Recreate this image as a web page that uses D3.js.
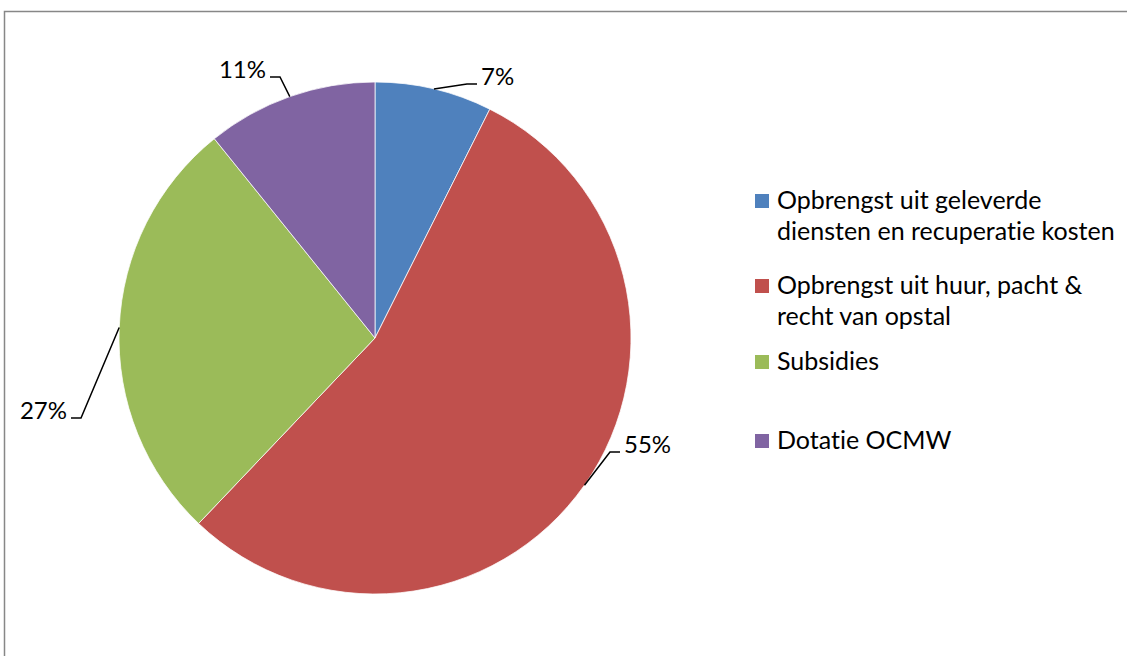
<!DOCTYPE html>
<html>
<head>
<meta charset="utf-8">
<script src="https://cdn.jsdelivr.net/npm/d3@7"></script>
<style>
    body { margin: 0; background: #fff; }
    svg { display: block; }
    text { font-family: Lato, "Open Sans", sans-serif; fill: #000; font-variant-ligatures: none; }
</style>
</head>
<body>
<div id="chart"></div>
<script>
// chart data
const categories = [
    ["Opbrengst uit geleverde", "diensten en recuperatie kosten"],
    ["Opbrengst uit huur, pacht &", "recht van opstal"],
    ["Subsidies"],
    ["Dotatie OCMW"]
];
const values = [7.4, 54.7, 27.1, 10.8];
const colors = ["#4F81BD", "#C0504D", "#9BBB59", "#8064A2"];

// where each label sits (elbow of the leader line, relative to the pie centre)
const labelElbows = [[92, -254], [235, 114], [-294, 80], [-95, -261]];
const labelSide = [1, 1, -1, -1];
const legendRows = [201, 286, 362, 441];

const width = 1127, height = 656;
const cx = 375, cy = 338, radius = 256;

const svg = d3.select("#chart").append("svg")
    .attr("width", width)
    .attr("height", height);

// chart area border (runs off right & bottom)
svg.append("rect")
    .attr("x", 4.5)
    .attr("y", 11.5)
    .attr("width", width + 10)
    .attr("height", height + 10)
    .attr("fill", "none")
    .attr("stroke", "#878787")
    .attr("stroke-width", 1.5);

const total = d3.sum(values);
const pie = d3.pie().sort(null).value((d) => d)(values);
const arc = d3.arc().innerRadius(0).outerRadius(radius);

const g = svg.append("g").attr("transform", `translate(${cx},${cy})`);

g.selectAll("path.slice")
    .data(pie)
    .join("path")
    .attr("class", "slice")
    .attr("d", arc)
    .attr("fill", (d, i) => colors[i])
    .attr("stroke", "#fff")
    .attr("stroke-width", 0.75);

// leader lines + percentage labels
pie.forEach((d, i) => {
    const mid = (d.startAngle + d.endAngle) / 2;
    const sx = Math.sin(mid) * radius, sy = -Math.cos(mid) * radius;
    const [ex, ey] = labelElbows[i];
    const side = labelSide[i];
    const hx = ex + side * 10;

    g.append("polyline")
        .attr("points", `${sx},${sy} ${ex},${ey} ${hx},${ey}`)
        .attr("fill", "none")
        .attr("stroke", "#000")
        .attr("stroke-width", 1.5);

    g.append("text")
        .attr("x", hx + side * 4)
        .attr("y", ey + 1)
        .attr("text-anchor", side > 0 ? "start" : "end")
        .style("font-size", "24px")
        .text(`${Math.round(d.data / total * 100)}%`);
});

// legend
const legend = svg.append("g");
categories.forEach((lines, i) => {
    const y = legendRows[i];
    legend.append("rect")
        .attr("x", 755)
        .attr("y", y - 7)
        .attr("width", 14)
        .attr("height", 14)
        .attr("fill", colors[i]);

    const t = legend.append("text")
        .attr("x", 777)
        .attr("y", y + 8)
        .style("font-size", "25px");
    lines.forEach((line, j) => {
        t.append("tspan")
            .attr("x", 777)
            .attr("dy", j === 0 ? 0 : 31)
            .text(line);
    });
});
</script>
</body>
</html>
